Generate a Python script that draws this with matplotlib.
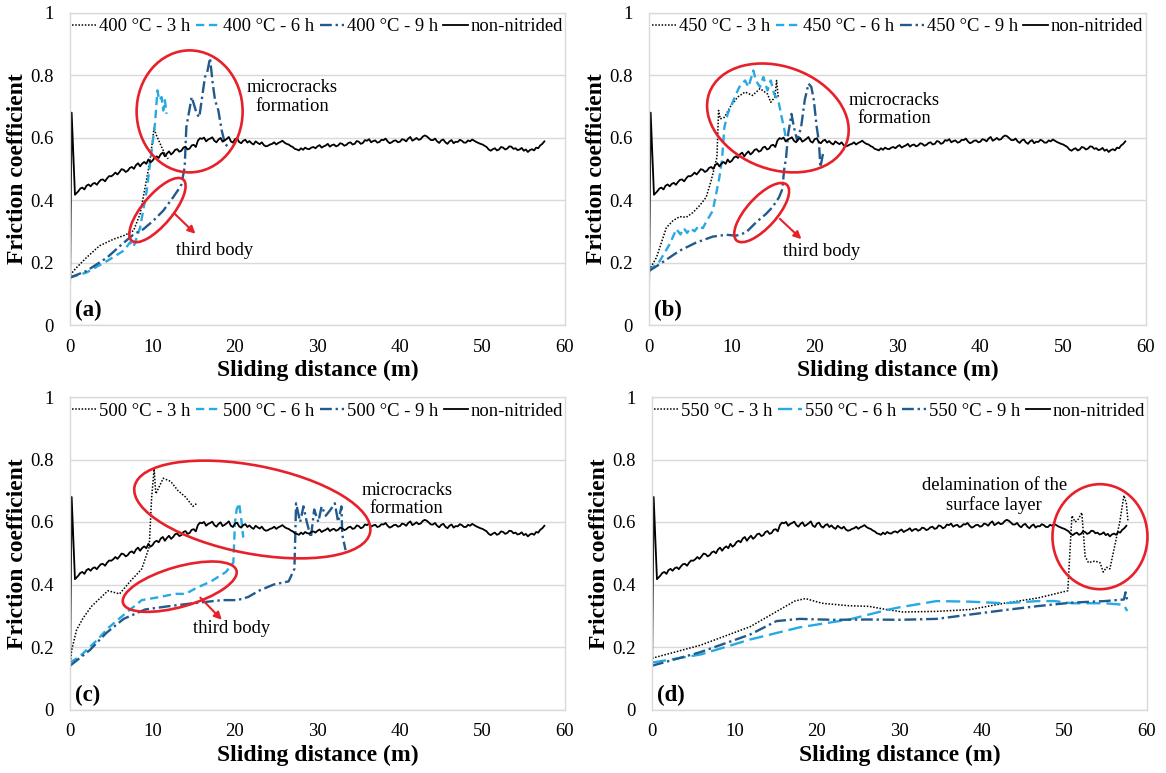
"""Friction coefficient vs sliding distance for nitrided samples (4 panels)."""
import numpy as np
import matplotlib
matplotlib.use('Agg')
import matplotlib.pyplot as plt
import matplotlib.transforms as mtransforms
from matplotlib.patches import Ellipse

plt.rcParams['font.family'] = ['Liberation Serif', 'DejaVu Serif']

DPI = 100
RED = '#E8202A'
GRID = '#D9D9D9'
C_3H = 'black'
C_6H = '#29A9E1'
C_9H = '#215A8C'

# non-nitrided reference curve, shared by all panels
NON_HEAD_X = [0.0, 0.2, 0.6]
NON_HEAD_Y = [0.09, 0.68, 0.417]
NON_STEP = 0.25         # sampling step (m) after the running-in spike, from 1.0 m
NON_Y = [
    0.428, 0.437, 0.440, 0.434, 0.446, 0.450, 0.444, 0.452, 0.455, 0.449,
    0.458, 0.465, 0.466, 0.460, 0.470, 0.477, 0.476, 0.481, 0.488, 0.482,
    0.490, 0.499, 0.497, 0.490, 0.494, 0.503, 0.506, 0.500, 0.512, 0.518,
    0.508, 0.517, 0.522, 0.516, 0.530, 0.521, 0.526, 0.536, 0.540, 0.535,
    0.547, 0.552, 0.540, 0.549, 0.556, 0.546, 0.552, 0.561, 0.563, 0.555,
    0.558, 0.568, 0.571, 0.562, 0.565, 0.575, 0.577, 0.570, 0.590, 0.598,
    0.596, 0.600, 0.588, 0.594, 0.597, 0.601, 0.590, 0.585, 0.594, 0.599,
    0.587, 0.591, 0.596, 0.602, 0.588, 0.584, 0.595, 0.598, 0.586, 0.582,
    0.590, 0.593, 0.584, 0.589, 0.582, 0.578, 0.588, 0.583, 0.579, 0.585,
    0.576, 0.572, 0.574, 0.578, 0.580, 0.585, 0.578, 0.583, 0.586, 0.590,
    0.584, 0.580, 0.578, 0.573, 0.570, 0.564, 0.562, 0.559, 0.566, 0.561,
    0.568, 0.564, 0.563, 0.568, 0.570, 0.566, 0.572, 0.576, 0.568, 0.572,
    0.575, 0.580, 0.571, 0.576, 0.578, 0.572, 0.575, 0.582, 0.580, 0.574,
    0.577, 0.583, 0.585, 0.578, 0.580, 0.589, 0.587, 0.580, 0.583, 0.592,
    0.590, 0.595, 0.585, 0.589, 0.591, 0.584, 0.586, 0.593, 0.592, 0.597,
    0.588, 0.582, 0.585, 0.590, 0.591, 0.585, 0.587, 0.595, 0.593, 0.588,
    0.597, 0.602, 0.590, 0.594, 0.599, 0.593, 0.595, 0.603, 0.607, 0.604,
    0.598, 0.592, 0.592, 0.597, 0.588, 0.583, 0.591, 0.594, 0.585, 0.580,
    0.588, 0.592, 0.582, 0.587, 0.586, 0.593, 0.590, 0.584, 0.584, 0.591,
    0.588, 0.594, 0.590, 0.586, 0.583, 0.580, 0.578, 0.574, 0.570, 0.562,
    0.558, 0.563, 0.566, 0.559, 0.562, 0.570, 0.568, 0.562, 0.565, 0.572,
    0.571, 0.564, 0.566, 0.560, 0.562, 0.567, 0.558, 0.562, 0.554, 0.560,
    0.563, 0.559, 0.568, 0.566, 0.575, 0.580, 0.588,
]

# (a) 400 °C
A_3H_X = [0, 0.8, 2.0, 3.6, 5.3, 6.5, 7.7, 8.5, 9.1, 9.7, 10.0, 10.2, 10.4, 10.6, 11.1, 11.5, 11.9]
A_3H_Y = [0.16, 0.184, 0.216, 0.254, 0.275, 0.286, 0.302, 0.356, 0.44, 0.527, 0.59, 0.633, 0.612, 0.6,
          0.57, 0.548, 0.532]
A_6H_X = [0, 2.0, 4.5, 6.5, 7.3, 7.7, 8.5, 9.3, 9.9, 10.3, 10.6, 10.8, 11.1, 11.3, 11.5, 11.7]
A_6H_Y = [0.152, 0.168, 0.205, 0.238, 0.265, 0.25, 0.312, 0.43, 0.559, 0.644, 0.751, 0.72, 0.73, 0.687,
          0.72, 0.676]
A_9H_X = [0, 2.0, 4.5, 6.1, 7.7, 8.9, 10.1, 11.3, 12.5, 13.3, 13.5, 13.9, 14.1, 14.75, 15.36, 15.67,
          15.96, 16.36, 16.64, 16.97, 17.3, 17.58, 17.98, 18.39, 18.79, 19.19]
A_9H_Y = [0.152, 0.173, 0.216, 0.254, 0.29, 0.307, 0.334, 0.366, 0.409, 0.44, 0.45, 0.505, 0.633, 0.73,
          0.677, 0.665, 0.72, 0.794, 0.81, 0.855, 0.773, 0.72, 0.687, 0.623, 0.58, 0.57]

# (b) 450 °C
B_3H_X = [0, 0.9, 2.1, 2.9, 3.7, 4.5, 5.3, 6.1, 6.9, 7.5, 7.9, 8.2, 8.4, 8.6, 9.1, 9.8, 10.7, 11.6,
          12.5, 13.4, 14.3, 14.7, 15.2, 15.4, 15.6]
B_3H_Y = [0.175, 0.216, 0.312, 0.334, 0.347, 0.345, 0.36, 0.382, 0.409, 0.462, 0.505, 0.537, 0.687,
          0.66, 0.665, 0.698, 0.73, 0.746, 0.735, 0.757, 0.74, 0.713, 0.73, 0.783, 0.73]
B_6H_X = [0, 1.3, 2.5, 3.3, 3.8, 4.2, 4.6, 5.0, 5.5, 6.0, 6.5, 6.9, 7.7, 8.5, 8.8, 9.1, 9.5, 10.2,
          10.9, 11.6, 12.0, 12.6, 12.9, 13.4, 13.8, 14.3, 14.7, 15.1, 15.6, 16.1, 16.3, 16.5]
B_6H_Y = [0.173, 0.205, 0.259, 0.307, 0.29, 0.31, 0.295, 0.31, 0.3, 0.318, 0.31, 0.33, 0.366, 0.473,
          0.526, 0.633, 0.676, 0.72, 0.762, 0.783, 0.762, 0.815, 0.783, 0.762, 0.794, 0.751, 0.783,
          0.74, 0.72, 0.655, 0.633, 0.6]
B_9H_X = [0, 1.3, 3.7, 5.7, 7.7, 9.3, 10.5, 11.7, 12.9, 14.1, 14.9, 15.7, 16.1, 16.3, 16.55, 16.8,
          17.2, 17.5, 17.9, 18.36, 18.8, 19.26, 19.6, 19.9, 20.25, 20.5, 20.7, 21.0]
B_9H_Y = [0.173, 0.195, 0.238, 0.264, 0.283, 0.289, 0.286, 0.296, 0.328, 0.355, 0.377, 0.409, 0.435,
          0.494, 0.537, 0.612, 0.676, 0.633, 0.59, 0.633, 0.72, 0.773, 0.762, 0.72, 0.633, 0.59,
          0.505, 0.548]

# (c) 500 °C
C_3H_X = [0, 0.2, 0.8, 1.6, 2.6, 4.6, 6.0, 7.3, 8.7, 9.6, 9.9, 10.2, 10.4, 11.3, 12.2, 13.1, 14.0,
          14.9, 15.4]
C_3H_Y = [0.14, 0.19, 0.255, 0.293, 0.33, 0.38, 0.37, 0.41, 0.45, 0.52, 0.68, 0.77, 0.69, 0.74, 0.73,
          0.7, 0.68, 0.65, 0.66]
C_6H_X = [0, 1.2, 3.2, 4.6, 5.7, 7.3, 8.7, 10.9, 12.7, 14.0, 15.4, 17.1, 18.9, 19.8, 20.0, 20.2, 20.5,
          20.8, 21.0]
C_6H_Y = [0.15, 0.17, 0.22, 0.26, 0.285, 0.32, 0.35, 0.36, 0.37, 0.37, 0.39, 0.41, 0.44, 0.47, 0.6,
          0.64, 0.66, 0.6, 0.55]
C_9H_X = [0, 2.4, 4.4, 6.5, 9.1, 11.8, 14.9, 18.5, 20.3, 21.6, 22.9, 24.7, 26.5, 27.2, 27.3, 27.4,
          27.9, 28.3, 28.7, 29.2, 29.6, 30.1, 30.5, 31.0, 31.6, 32.1, 32.5, 32.9, 33.0, 33.4]
C_9H_Y = [0.14, 0.19, 0.245, 0.29, 0.32, 0.33, 0.34, 0.35, 0.35, 0.36, 0.38, 0.4, 0.41, 0.45, 0.55,
          0.66, 0.6, 0.65, 0.6, 0.55, 0.64, 0.6, 0.65, 0.62, 0.64, 0.66, 0.6, 0.65, 0.56, 0.51]

# (d) 550 °C
D_3H_X = [0, 5.9, 11.9, 17.3, 18.6, 20.6, 23.9, 26.3, 28.4, 30.4, 34.5, 38.6, 42.7, 46.8, 50.4, 50.9,
          51.3, 51.7, 52.1, 52.5, 52.9, 53.7, 54.3, 54.7, 55.1, 55.5, 56.1, 56.7, 57.2, 57.5, 57.7]
D_3H_Y = [0.164, 0.206, 0.265, 0.347, 0.355, 0.34, 0.332, 0.33, 0.32, 0.312, 0.314, 0.32, 0.34,
          0.357, 0.38, 0.62, 0.6, 0.61, 0.63, 0.49, 0.47, 0.475, 0.47, 0.44, 0.455, 0.45, 0.525, 0.6,
          0.685, 0.66, 0.6]
D_6H_X = [0, 5.9, 11.9, 17.9, 23.9, 28.7, 30.0, 34.5, 38.6, 42.7, 46.8, 48.8, 50.9, 54.9, 57.2, 57.6]
D_6H_Y = [0.15, 0.176, 0.224, 0.263, 0.288, 0.32, 0.327, 0.347, 0.345, 0.34, 0.347, 0.347, 0.34,
          0.34, 0.335, 0.315]
D_9H_X = [0, 5.8, 11.9, 15.1, 17.9, 21.9, 26.3, 30.0, 34.5, 38.6, 42.7, 46.8, 50.9, 54.9, 57.2, 57.4,
          57.6]
D_9H_Y = [0.14, 0.183, 0.24, 0.283, 0.29, 0.287, 0.288, 0.287, 0.29, 0.304, 0.318, 0.331, 0.342,
          0.347, 0.352, 0.375, 0.35]

TEMPS = ['400', '450', '500', '550']
PANEL_TAGS = ['(a)', '(b)', '(c)', '(d)']

# axes rectangles in figure pixels: left, top, right, bottom
AX_PX = [
    (70, 12.7, 565, 325),
    (649, 12.7, 1146, 325),
    (70, 397, 565, 709.5),
    (652, 397, 1147, 709.5),
]

W_PX, H_PX = 1166, 773


def ring(ax, x, y, w_px, h_px, angle=0):
    """Red ellipse centred on a data point, sized in pixels."""
    tr = ax.figure.dpi_scale_trans + mtransforms.ScaledTranslation(x, y, ax.transData)
    e = Ellipse((0, 0), w_px / DPI, h_px / DPI, angle=angle, transform=tr,
                fill=False, edgecolor=RED, lw=1.9, clip_on=False, zorder=5)
    ax.add_artist(e)


def arrow(ax, start, end):
    ax.annotate('', xy=end, xytext=start,
                arrowprops=dict(arrowstyle='-|>', color=RED, lw=1.5,
                                mutation_scale=11, shrinkA=0, shrinkB=0))


def panel(ax, temp, tag, s3, s6, s9, long_dash=False):
    x_non = NON_HEAD_X + list(np.arange(1.0, 57.5 + NON_STEP / 2, NON_STEP))
    y_non = NON_HEAD_Y + NON_Y
    dash6 = (0, (6, 2.5)) if long_dash else (0, (3.5, 2))
    ax.plot(s3[0], s3[1], color=C_3H, lw=1.1, ls=(0, (1, 1.1)),
            label='{t} °C - 3 h'.format(t=temp))
    ax.plot(s6[0], s6[1], color=C_6H, lw=1.7, ls=dash6,
            label='{t} °C - 6 h'.format(t=temp))
    ax.plot(s9[0], s9[1], color=C_9H, lw=1.7, ls=(0, (5, 1.6, 1, 1.6)),
            label='{t} °C - 9 h'.format(t=temp))
    ax.plot(x_non, y_non, color='black', lw=1.3, label='non-nitrided')

    ax.set_xlim(0, 60)
    ax.set_ylim(0, 1)
    ax.set_xticks(np.arange(0, 61, 10))
    ax.set_yticks([0, 0.2, 0.4, 0.6, 0.8, 1.0])
    ax.set_yticklabels(['0', '0.2', '0.4', '0.6', '0.8', '1'])
    ax.tick_params(axis='both', length=0, labelsize=13.5)
    ax.tick_params(axis='x', pad=10)
    ax.tick_params(axis='y', pad=12)
    ax.grid(axis='y', color=GRID, lw=1)
    ax.set_axisbelow(True)
    for sp in ax.spines.values():
        sp.set_color(GRID)
        sp.set_linewidth(1)
    ax.set_xlabel('Sliding distance (m)', fontsize=17, fontweight='bold', labelpad=3)
    ax.set_ylabel('Friction coefficient', fontsize=17, fontweight='bold', labelpad=1)
    ax.legend(loc='upper center', bbox_to_anchor=(0.5, 1.0), ncol=4, frameon=False,
              fontsize=13.4, handlelength=1.3, handletextpad=0.15, columnspacing=0.3,
              borderaxespad=0.1, borderpad=0.2)
    ax.text(0.01, 0.012, tag, transform=ax.transAxes, fontsize=16.5, fontweight='bold',
            ha='left', va='bottom')


def main():
    fig = plt.figure(figsize=(W_PX / DPI, H_PX / DPI), dpi=DPI)
    fig.patch.set_facecolor('white')
    axes = []
    for l, t, r, b in AX_PX:
        axes.append(fig.add_axes([l / W_PX, 1 - b / H_PX, (r - l) / W_PX, (b - t) / H_PX]))

    series = [
        ((A_3H_X, A_3H_Y), (A_6H_X, A_6H_Y), (A_9H_X, A_9H_Y)),
        ((B_3H_X, B_3H_Y), (B_6H_X, B_6H_Y), (B_9H_X, B_9H_Y)),
        ((C_3H_X, C_3H_Y), (C_6H_X, C_6H_Y), (C_9H_X, C_9H_Y)),
        ((D_3H_X, D_3H_Y), (D_6H_X, D_6H_Y), (D_9H_X, D_9H_Y)),
    ]
    for i, ax in enumerate(axes):
        s3, s6, s9 = series[i]
        panel(ax, TEMPS[i], PANEL_TAGS[i], s3, s6, s9, long_dash=(i == 3))

    txt = dict(fontsize=13.4, ha='center', va='center', linespacing=1.15)

    # (a)
    ax = axes[0]
    ring(ax, 14.5, 0.684, 106, 122)
    ax.text(26.9, 0.73, 'microcracks\nformation', **txt)
    ring(ax, 10.6, 0.368, 80, 30, angle=50)
    arrow(ax, (12.7, 0.356), (15.2, 0.292))
    ax.text(17.5, 0.238, 'third body', **txt)

    # (b)
    ax = axes[1]
    ring(ax, 15.56, 0.663, 146, 103, angle=-20)
    ax.text(29.6, 0.69, 'microcracks\nformation', **txt)
    ring(ax, 13.6, 0.36, 75, 30, angle=48)
    arrow(ax, (15.8, 0.34), (18.4, 0.275))
    ax.text(20.9, 0.234, 'third body', **txt)

    # (c)
    ax = axes[2]
    ring(ax, 22.1, 0.64, 240, 88, angle=-11)
    ax.text(40.8, 0.672, 'microcracks\nformation', **txt)
    ring(ax, 13.3, 0.393, 118, 40, angle=16)
    arrow(ax, (15.8, 0.358), (18.4, 0.287))
    ax.text(19.6, 0.258, 'third body', **txt)

    # (d)
    ax = axes[3]
    ring(ax, 54.3, 0.553, 95, 105)
    ax.text(41.5, 0.684, 'delamination of the\nsurface layer', **txt)

    fig.savefig('out.png', dpi=DPI)


if __name__ == '__main__':
    main()
